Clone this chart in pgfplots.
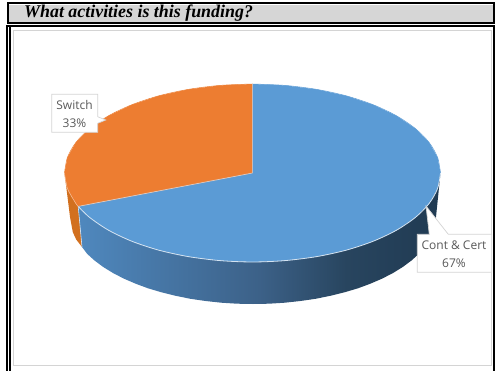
\documentclass[border=0pt]{standalone}
\usepackage{pgfplots}
\pgfplotsset{compat=1.18}
\usepackage{fontspec}
\setmainfont{Liberation Serif}
\newfontfamily\lab{Open Sans}
\definecolor{blueT}{HTML}{5B9BD5}
\definecolor{orangeT}{HTML}{ED7D31}
\definecolor{orangeS}{HTML}{D2701F}
\definecolor{txt}{HTML}{595959}
\definecolor{bx}{HTML}{D4D4D4}
\definecolor{bandg}{HTML}{D6D6D6}
\definecolor{rim}{HTML}{D3E3F2}
\definecolor{wa}{HTML}{4F88BE}
\definecolor{wb}{HTML}{3C6188}
\definecolor{wc}{HTML}{28455F}
\definecolor{wd}{HTML}{203A52}
\pgfdeclarehorizontalshading{wallblue}{100bp}{
 color(0bp)=(wa);
 color(25bp)=(wa);color(50bp)=(wb);color(62bp)=(wc);color(75bp)=(wd);color(100bp)=(wd)}
\begin{document}
\begin{tikzpicture}
\begin{axis}[hide axis,scale only axis,width=495pt,height=371pt,
 xmin=0,xmax=495,ymin=0,ymax=371,y dir=reverse,clip=false,anchor=south west,at={(0pt,0pt)}]
% page frame
\fill[white] (axis cs:0,0) rectangle (axis cs:495,371);
\fill[bandg] (axis cs:9,5) rectangle (axis cs:493,22.5);
\fill[black] (axis cs:6.5,2) rectangle (axis cs:495,3.7);
\fill[black] (axis cs:6.5,22.5) rectangle (axis cs:495,24.5);
\fill[black] (axis cs:6.5,25.5) rectangle (axis cs:495,27.5);
\fill[black] (axis cs:6.5,2) rectangle (axis cs:9,24.5);
\fill[black] (axis cs:493,2) rectangle (axis cs:495,24.5);
\fill[black] (axis cs:6,25.5) rectangle (axis cs:8,371);
\fill[black] (axis cs:9,25.5) rectangle (axis cs:11,371);
\fill[black] (axis cs:493,25.5) rectangle (axis cs:495,371);
\draw[bx,line width=0.9pt] (axis cs:13.3,30.5) rectangle (axis cs:491.7,365);
\node[anchor=west,inner sep=0pt,font=\fontsize{17.9}{20}\selectfont\bfseries\itshape] at (axis cs:24,13.4) {What activities is this funding?};

% orange wall
\addplot[draw=none,fill=orangeS] coordinates {
 (78.2,206.4)(75.8,203.4)(67.4,188.5)(64.5,173)
 (70,217)(72.8,232.1)(76.2,239.5)(82,247)};
% blue wall
\addplot[draw=none,shading=wallblue] coordinates {
 (78.2,206.4)(89.7,217.5)(108.5,230.2)(131.7,241.2)(158.5,250.1)(188.2,256.6)(219.9,260.6)(252.5,262)
 (285.1,260.6)(316.8,256.6)(346.5,250.1)(373.3,241.2)(396.5,230.2)(415.3,217.5)(429.2,203.4)(437.6,188.5)(440.5,173)
 (436,217)(433.2,232.1)(429.8,239.5)(425,246.8)(418.9,253.8)(411.5,260.5)(402.9,266.9)(393.2,272.9)(382.4,278.5)(370.6,283.6)(358,288.3)(344.5,292.3)(330.3,295.8)(315.6,298.8)(300.4,301)(284.8,302.7)(269,303.7)
 (253,304)(237,303.7)(221.2,302.7)(205.6,301)(190.4,298.8)(175.7,295.8)(161.5,292.3)(148,288.3)(135.4,283.6)(123.6,278.5)(112.8,272.9)(103.1,266.9)(94.5,260.5)(87.1,253.8)(82,247)};
% wall separator
\addplot[draw=rim,line width=0.6pt] coordinates {(78.2,206.4)(82,247)};
% Cont & Cert top face (67%)
\addplot[draw=none,fill=blueT] coordinates {
 (252.5,173)(252.5,84)(285.1,85.4)(316.8,89.4)(346.5,95.9)(373.3,104.8)(396.5,115.8)(415.3,128.5)(429.2,142.6)(437.6,157.5)(440.5,173)
 (437.6,188.5)(429.2,203.4)(415.3,217.5)(396.5,230.2)(373.3,241.2)(346.5,250.1)(316.8,256.6)(285.1,260.6)(252.5,262)
 (219.9,260.6)(188.2,256.6)(158.5,250.1)(131.7,241.2)(108.5,230.2)(89.7,217.5)(78.2,206.4)};
% Switch top face (33%)
\addplot[draw=none,fill=orangeT] coordinates {
 (252.5,173)(78.2,206.4)(75.8,203.4)(67.4,188.5)(64.5,173)(67.4,157.5)(75.8,142.6)(89.7,128.5)(108.5,115.8)(131.7,104.8)(158.5,95.9)(188.2,89.4)(219.9,85.4)(252.5,84)};
% smooth back edges
\addplot[draw=orangeT,line width=0.5pt,smooth] coordinates {
 (64.5,173)(67.4,157.5)(75.8,142.6)(89.7,128.5)(108.5,115.8)(131.7,104.8)(158.5,95.9)(188.2,89.4)(219.9,85.4)(252.5,84)};
\addplot[draw=blueT,line width=0.5pt,smooth] coordinates {
 (252.5,84)(285.1,85.4)(316.8,89.4)(346.5,95.9)(373.3,104.8)(396.5,115.8)(415.3,128.5)(429.2,142.6)(437.6,157.5)(440.5,173)};
% rims and slice borders
\addplot[draw=rim,line width=0.8pt,smooth] coordinates {
 (440.5,173)(437.6,188.5)(429.2,203.4)(415.3,217.5)(396.5,230.2)(373.3,241.2)(346.5,250.1)(316.8,256.6)(285.1,260.6)(252.5,262)
 (219.9,260.6)(188.2,256.6)(158.5,250.1)(131.7,241.2)(108.5,230.2)(89.7,217.5)(78.2,206.4)};
\addplot[draw=orangeT!55!white,line width=0.6pt,smooth] coordinates {(78.2,206.4)(75.8,203.4)(67.4,188.5)(64.5,173)};
\addplot[draw=rim!75!orangeT,line width=0.7pt] coordinates {(78.2,206.4)(252.5,173)};
\addplot[draw=orangeT!50!blueT!60!white,line width=0.4pt] coordinates {(252.5,173)(252.5,84)};
% label callouts
\draw[bx,fill=white,line width=0.7pt] (axis cs:51.7,94.3)--(axis cs:97.7,94.3)--(axis cs:97.7,116.7)--(axis cs:105.7,120)--(axis cs:97.7,123.3)--(axis cs:97.7,132.3)--(axis cs:51.7,132.3)--cycle;
\draw[bx,fill=white,line width=0.7pt] (axis cs:417.3,234.3)--(axis cs:429.3,234.3)--(axis cs:426,206)--(axis cs:448.3,234.3)--(axis cs:491.7,234.3)--(axis cs:491.7,272.3)--(axis cs:417.3,272.3)--cycle;
\node[txt,font=\lab\fontsize{12}{14}\selectfont] at (axis cs:74.5,105.5) {Switch};
\node[txt,font=\lab\fontsize{12}{14}\selectfont] at (axis cs:74.5,123) {33\%};
\node[txt,font=\lab\fontsize{12}{14}\selectfont] at (axis cs:454,245.7) {Cont \& Cert};
\node[txt,font=\lab\fontsize{12}{14}\selectfont] at (axis cs:454,263) {67\%};
\end{axis}
\end{tikzpicture}
\end{document}
